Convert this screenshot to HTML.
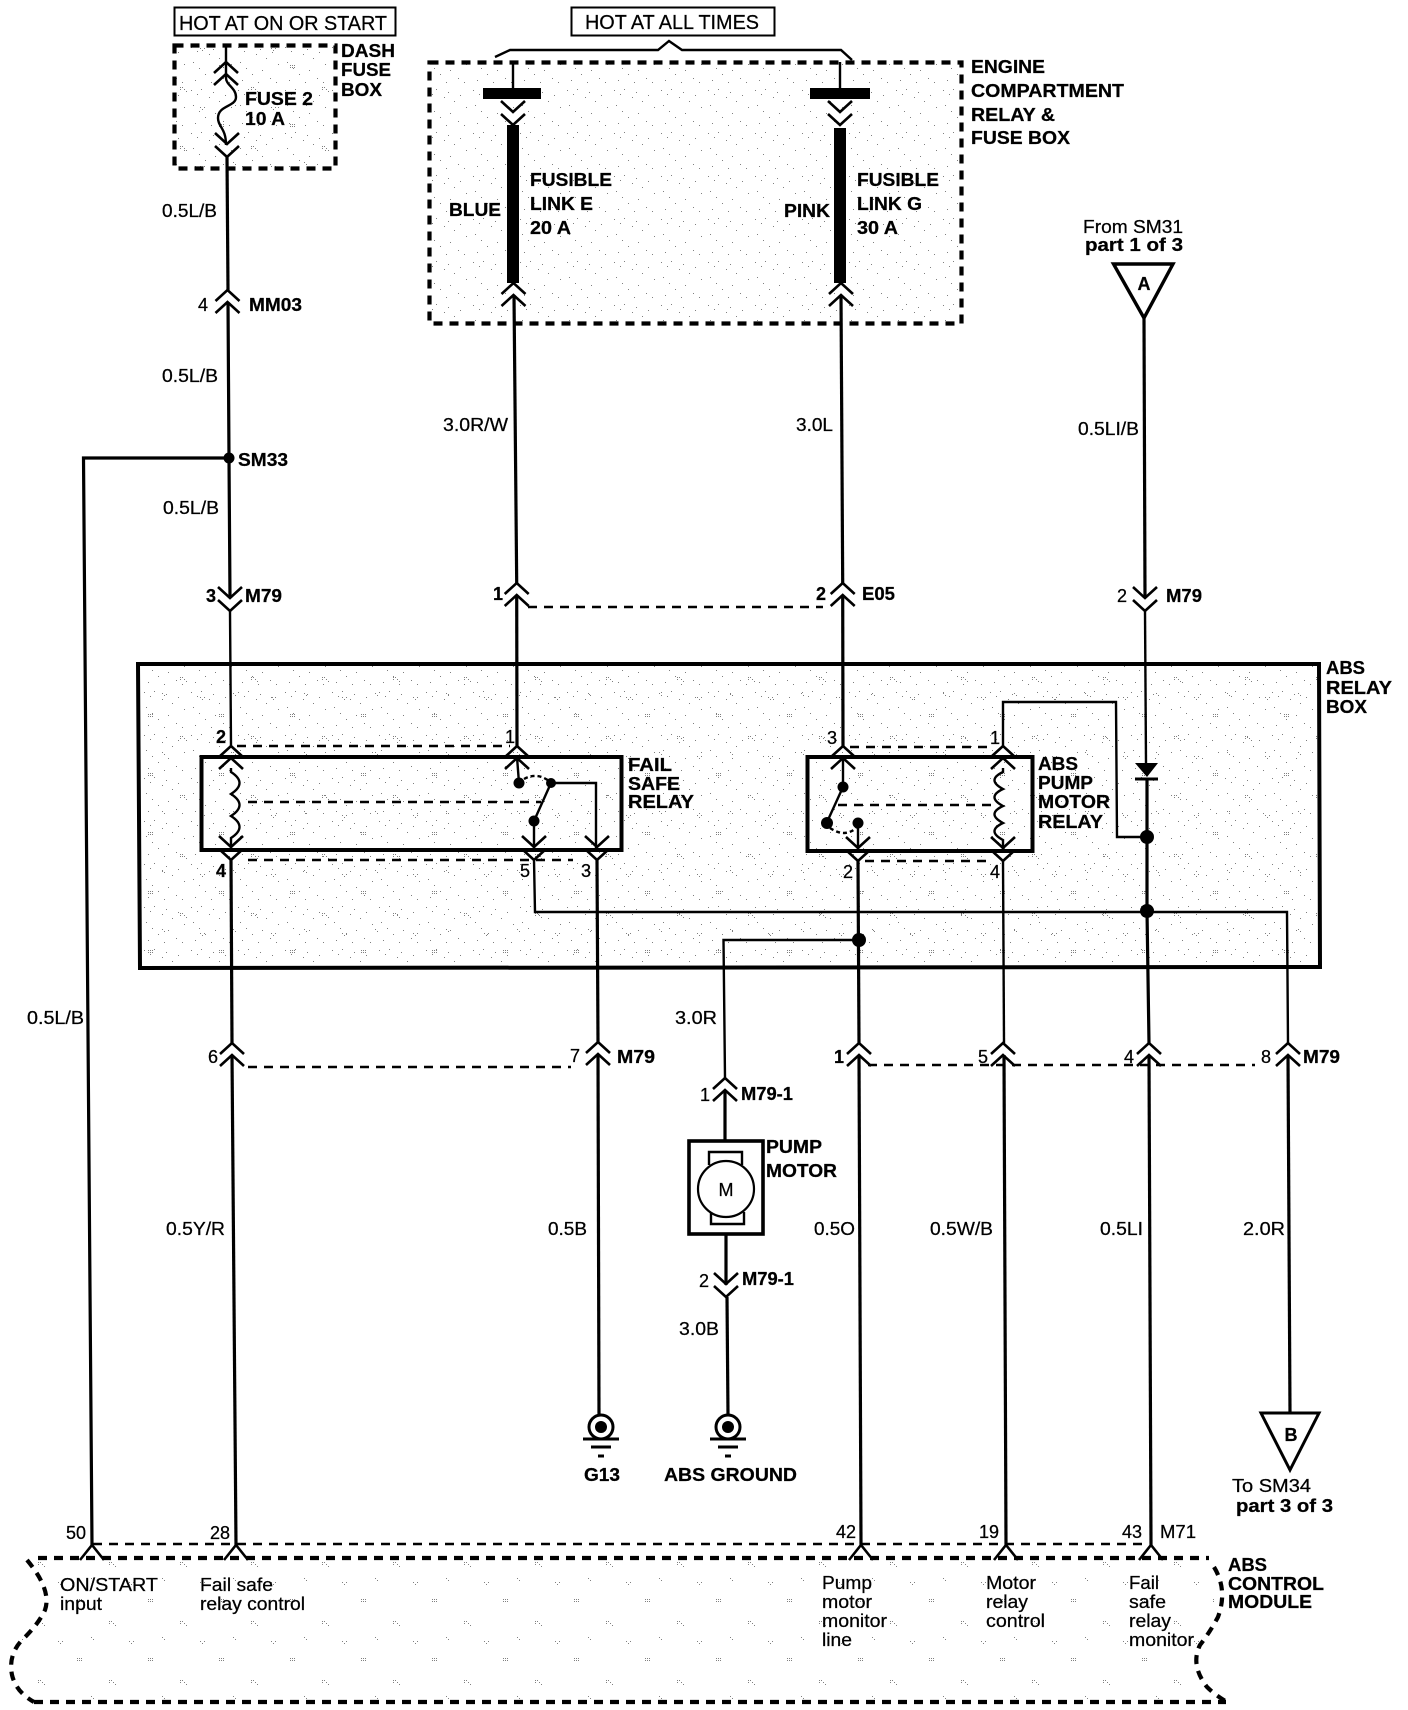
<!DOCTYPE html>
<html><head><meta charset="utf-8"><style>
html,body{margin:0;padding:0;background:#fff}
svg{display:block}
text{font-family:"Liberation Sans",sans-serif;fill:#000;stroke:#000;stroke-width:.25}
.b{font-weight:bold;font-size:18px}
.r{font-size:18px}
.w{fill:none;stroke:#000;stroke-width:3.2}
.t{fill:none;stroke:#000;stroke-width:2.4}
.box{fill:none;stroke:#000;stroke-width:4}
.da{fill:none;stroke:#000;stroke-width:2.6;stroke-dasharray:9 7}
.db{fill:none;stroke:#000;stroke-width:4.2;stroke-dasharray:9 7}
.c{fill:none;stroke:#000;stroke-width:2.6}
</style></head><body>
<svg xmlns="http://www.w3.org/2000/svg" width="1408" height="1710" viewBox="0 0 1408 1710">
<defs>
<pattern id="p1" width="47" height="43" patternUnits="userSpaceOnUse"><g fill="#000">
<rect x="3" y="4" width="1" height="1"/><rect x="9" y="8" width="1" height="1"/><rect x="13" y="3" width="1" height="1"/><rect x="21" y="11" width="1" height="1"/><rect x="25" y="6" width="1" height="1"/><rect x="31" y="15" width="1" height="1"/><rect x="37" y="9" width="1" height="1"/><rect x="43" y="21" width="1" height="1"/><rect x="5" y="19" width="1" height="1"/><rect x="11" y="25" width="1" height="1"/><rect x="17" y="31" width="1" height="1"/><rect x="27" y="27" width="1" height="1"/><rect x="35" y="35" width="1" height="1"/><rect x="41" y="39" width="1" height="1"/><rect x="7" y="37" width="1" height="1"/><rect x="23" y="39" width="1" height="1"/>
</g></pattern>
<pattern id="p2" width="71" height="59" patternUnits="userSpaceOnUse"><g fill="#000">
<rect x="6" y="6" width="1" height="1"/><rect x="8" y="6" width="1" height="1"/><rect x="10" y="6" width="1" height="1"/><rect x="6" y="8" width="1" height="1"/><rect x="8" y="8" width="1" height="1"/><rect x="10" y="8" width="1" height="1"/><rect x="38" y="28" width="1" height="1"/><rect x="40" y="28" width="1" height="1"/><rect x="42" y="30" width="1" height="1"/><rect x="38" y="30" width="1" height="1"/><rect x="44" y="32" width="1" height="1"/><rect x="58" y="48" width="1" height="1"/><rect x="60" y="50" width="1" height="1"/><rect x="62" y="48" width="1" height="1"/><rect x="20" y="44" width="1" height="1"/><rect x="22" y="46" width="1" height="1"/>
</g></pattern>
<g id="up"><path class="c" d="M-12 11L0 0L12 11M-12 23L0 12L12 23"/></g>
<g id="dn"><path class="c" d="M-12 -24L0 -13L12 -24M-12 -11L0 0L12 -11"/></g>
<g id="tm"><path class="c" d="M-12 15L0 0L12 15"/></g>
<g id="gnd"><circle r="12" fill="none" stroke="#000" stroke-width="3"/><circle r="6" fill="#000"/><path d="M-18 12H18" stroke="#000" stroke-width="3"/><path d="M-10 20H10" stroke="#000" stroke-width="3"/><path d="M-3 29H3" stroke="#000" stroke-width="3"/></g>
</defs>

<!-- stipple -->
<g opacity="0.5">
<rect x="176" y="47" width="158" height="120" fill="url(#p1)"/><rect x="176" y="47" width="158" height="120" fill="url(#p2)"/>
<rect x="431" y="64" width="529" height="258" fill="url(#p1)"/>
<polygon points="140,666 1317,666 1318,965 142,965" fill="url(#p1)"/><polygon points="140,666 1317,666 1318,965 142,965" fill="url(#p2)"/>
<path d="M30 1560H1210Q1225 1590 1200 1645Q1195 1670 1225 1700H34Q5 1670 15 1645L45 1610Q45 1580 30 1560Z" fill="url(#p2)"/>
</g>

<!-- header boxes -->
<rect x="174.5" y="7.5" width="221" height="28" fill="none" stroke="#000" stroke-width="2"/>
<text x="179" y="30" font-size="20" textLength="208" lengthAdjust="spacingAndGlyphs">HOT AT ON OR START</text>
<rect x="571.5" y="7.5" width="203" height="28" fill="none" stroke="#000" stroke-width="2"/>
<text x="585" y="29" font-size="20" textLength="174" lengthAdjust="spacingAndGlyphs">HOT AT ALL TIMES</text>
<path class="t" d="M495 57L510 50H658L669 41L682 50H841L852 60"/>

<!-- dashed boxes -->
<rect class="db" x="174.5" y="45.5" width="161" height="123"/>
<rect class="db" x="429.5" y="62.5" width="532" height="261"/>

<!-- Dash fuse -->
<path class="t" d="M226 45V78"/>
<use href="#up" x="226" y="62"/>
<path class="t" d="M226 78C226 85 236 88 236 97C236 107 218 105 218 118C218 127 226 128 226 145"/>
<use href="#dn" x="227" y="157"/>
<path class="w" d="M227 157L228 290"/>
<use href="#up" x="227.5" y="290"/>
<path class="w" d="M228 302L229 458L230 598"/>
<text class="b" x="341" y="57" textLength="54" lengthAdjust="spacingAndGlyphs">DASH</text>
<text class="b" x="341" y="76" textLength="50" lengthAdjust="spacingAndGlyphs">FUSE</text>
<text class="b" x="341" y="96" textLength="41" lengthAdjust="spacingAndGlyphs">BOX</text>
<text class="b" x="245" y="105" textLength="68" lengthAdjust="spacingAndGlyphs">FUSE 2</text>
<text class="b" x="245" y="125" textLength="40" lengthAdjust="spacingAndGlyphs">10 A</text>
<text class="r" x="162" y="217" textLength="55" lengthAdjust="spacingAndGlyphs">0.5L/B</text>
<text class="r" x="162" y="382" textLength="56" lengthAdjust="spacingAndGlyphs">0.5L/B</text>
<text class="r" x="163" y="514" textLength="56" lengthAdjust="spacingAndGlyphs">0.5L/B</text>
<text class="r" x="198" y="311">4</text>
<text class="b" x="249" y="311" textLength="53" lengthAdjust="spacingAndGlyphs">MM03</text>
<circle cx="229" cy="458" r="5.5"/>
<text class="b" x="238" y="466" textLength="50" lengthAdjust="spacingAndGlyphs">SM33</text>
<path class="w" d="M229 458H83.5L92 1545"/>
<text class="r" x="27" y="1024" textLength="57" lengthAdjust="spacingAndGlyphs">0.5L/B</text>

<!-- fuses -->
<rect x="483" y="88" width="58" height="11"/>
<rect x="810" y="88" width="60" height="11"/>
<path class="t" d="M513 62V88M840 62V88"/>
<use href="#dn" x="513" y="125"/>
<use href="#dn" x="840" y="125"/>
<rect x="507" y="125" width="12" height="158"/>
<rect x="834" y="128" width="12" height="155"/>
<use href="#up" x="513.5" y="283"/>
<use href="#up" x="841" y="283"/>
<text class="b" x="449" y="216" textLength="52" lengthAdjust="spacingAndGlyphs">BLUE</text>
<text class="b" x="530" y="186" textLength="82" lengthAdjust="spacingAndGlyphs">FUSIBLE</text>
<text class="b" x="530" y="210" textLength="63" lengthAdjust="spacingAndGlyphs">LINK E</text>
<text class="b" x="530" y="234" textLength="41" lengthAdjust="spacingAndGlyphs">20 A</text>
<text class="b" x="784" y="217" textLength="46" lengthAdjust="spacingAndGlyphs">PINK</text>
<text class="b" x="857" y="186" textLength="82" lengthAdjust="spacingAndGlyphs">FUSIBLE</text>
<text class="b" x="857" y="210" textLength="65" lengthAdjust="spacingAndGlyphs">LINK G</text>
<text class="b" x="857" y="234" textLength="41" lengthAdjust="spacingAndGlyphs">30 A</text>
<text class="b" x="971" y="73" textLength="74" lengthAdjust="spacingAndGlyphs">ENGINE</text>
<text class="b" x="971" y="97" textLength="153" lengthAdjust="spacingAndGlyphs">COMPARTMENT</text>
<text class="b" x="971" y="121" textLength="84" lengthAdjust="spacingAndGlyphs">RELAY &amp;</text>
<text class="b" x="971" y="144" textLength="99" lengthAdjust="spacingAndGlyphs">FUSE BOX</text>
<path class="w" d="M514 295L516.7 583"/>
<path class="w" d="M841 295L842.7 583"/>
<text class="r" x="443" y="431" textLength="65" lengthAdjust="spacingAndGlyphs">3.0R/W</text>
<text class="r" x="796" y="431" textLength="37" lengthAdjust="spacingAndGlyphs">3.0L</text>

<!-- A flag -->
<text class="r" x="1083" y="233" textLength="100" lengthAdjust="spacingAndGlyphs">From SM31</text>
<text class="b" x="1085" y="251" textLength="98" lengthAdjust="spacingAndGlyphs">part 1 of 3</text>
<polygon points="1113.5,264 1173,264 1144,318" fill="none" stroke="#000" stroke-width="3.4"/>
<text x="1144" y="290" font-size="18" font-weight="bold" text-anchor="middle">A</text>
<path class="w" d="M1144 318L1145 598"/>
<text class="r" x="1078" y="435" textLength="61" lengthAdjust="spacingAndGlyphs">0.5LI/B</text>

<!-- row M79 / E05 -->
<use href="#dn" x="230" y="611"/>
<use href="#up" x="516.7" y="583"/>
<use href="#up" x="842.7" y="583"/>
<use href="#dn" x="1145" y="611"/>
<path class="da" d="M528 607H823"/>
<text class="b" x="206" y="602">3</text>
<text class="b" x="245" y="602" textLength="37" lengthAdjust="spacingAndGlyphs">M79</text>
<text class="b" x="493" y="600">1</text>
<text class="b" x="816" y="600">2</text>
<text class="b" x="862" y="600" textLength="33" lengthAdjust="spacingAndGlyphs">E05</text>
<text class="r" x="1117" y="602">2</text>
<text class="b" x="1166" y="602" textLength="36" lengthAdjust="spacingAndGlyphs">M79</text>

<!-- ABS relay box -->
<polygon class="box" points="138,664 1319,664 1320,967 140,968"/>
<text class="b" x="1326" y="674" textLength="39" lengthAdjust="spacingAndGlyphs">ABS</text>
<text class="b" x="1326" y="694" textLength="66" lengthAdjust="spacingAndGlyphs">RELAY</text>
<text class="b" x="1326" y="713" textLength="41" lengthAdjust="spacingAndGlyphs">BOX</text>

<!-- Fail safe relay -->
<rect class="box" x="201.5" y="757" width="420" height="93"/>
<path class="t" d="M230 611L231 746M231 768V772Q248 783 231 794Q248 805 231 816Q248 827 231 838V850"/>
<path class="w" d="M516.7 595L517 746"/>
<path class="t" d="M517 757L519 783"/>
<use href="#up" x="231" y="746"/><use href="#up" x="517" y="746"/>
<use href="#dn" x="231" y="860"/><use href="#dn" x="534" y="860"/><use href="#dn" x="597" y="860"/>
<path class="da" d="M237 746H510M248 802H541M248 860H573"/>
<circle cx="519" cy="783" r="5.5"/><circle cx="551" cy="783" r="5"/><circle cx="534" cy="821" r="5.5"/>
<path d="M524 779Q537 772 549 781" fill="none" stroke="#000" stroke-width="2.4" stroke-dasharray="4 3"/>
<path class="t" d="M551 783L534 821V850"/>
<path class="t" d="M551 783H596V850"/>
<text class="b" x="216" y="743">2</text>
<text class="r" x="505" y="743">1</text>
<text class="b" x="216" y="877">4</text>
<text class="r" x="520" y="877">5</text>
<text class="r" x="581" y="877">3</text>
<text class="b" x="628" y="771" textLength="44" lengthAdjust="spacingAndGlyphs">FAIL</text>
<text class="b" x="628" y="790" textLength="52" lengthAdjust="spacingAndGlyphs">SAFE</text>
<text class="b" x="628" y="808" textLength="66" lengthAdjust="spacingAndGlyphs">RELAY</text>

<!-- Pump relay -->
<rect class="box" x="807.5" y="757" width="225" height="94"/>
<path class="w" d="M842.7 595L843 746"/>
<path class="t" d="M843 757V787L826.6 823"/>
<use href="#up" x="843" y="746"/><use href="#up" x="1003" y="746"/>
<use href="#dn" x="858" y="861"/><use href="#dn" x="1003" y="861"/>
<circle cx="843" cy="787" r="5.5"/><circle cx="827" cy="823" r="6"/><circle cx="858" cy="823" r="5.5"/>
<path d="M830 828Q845 838 856 828" fill="none" stroke="#000" stroke-width="2.4" stroke-dasharray="4 3"/>
<path class="t" d="M858 823V851"/>
<path class="da" d="M850 747H990M838 805H994M865 861H990"/>
<path class="t" d="M1003 768V772Q986 780 1003 789Q986 797 1003 806Q986 814 1003 823Q986 831 1003 840V851"/>
<path class="t" d="M1003 746V702H1116L1117 837H1147"/>
<text class="r" x="827" y="744">3</text>
<text class="r" x="990" y="744">1</text>
<text class="r" x="843" y="878">2</text>
<text class="r" x="990" y="878">4</text>
<text class="b" x="1038" y="770" textLength="40" lengthAdjust="spacingAndGlyphs">ABS</text>
<text class="b" x="1038" y="789" textLength="55" lengthAdjust="spacingAndGlyphs">PUMP</text>
<text class="b" x="1038" y="808" textLength="72" lengthAdjust="spacingAndGlyphs">MOTOR</text>
<text class="b" x="1038" y="828" textLength="65" lengthAdjust="spacingAndGlyphs">RELAY</text>

<!-- A line + diode -->
<path class="t" d="M1145 611L1146 763"/>
<polygon points="1135,763 1158,763 1147,777"/>
<path d="M1135 779H1158" stroke="#000" stroke-width="3"/>
<path class="w" d="M1147 779V911L1149 1043"/>
<circle cx="1147" cy="837" r="7"/><circle cx="1147" cy="911" r="7"/>

<!-- bus -->
<path class="t" d="M534 860L535 912H1287L1288 1043"/>
<circle cx="859" cy="940" r="7"/>
<path class="t" d="M859 940H723.5L725 1078"/>
<path class="w" d="M858 861L859 1043"/>
<path class="t" d="M1003 861L1004 1043"/>
<path class="w" d="M231 860L232 1043"/>
<path class="w" d="M597 860L598 1042"/>

<!-- lower row -->
<use href="#up" x="232" y="1043"/><use href="#up" x="598" y="1042"/>
<use href="#up" x="859" y="1043"/><use href="#up" x="1003" y="1043"/>
<use href="#up" x="1149" y="1043"/><use href="#up" x="1288" y="1043"/>
<path class="da" d="M248 1067H571M868 1065H1255"/>
<text class="r" x="208" y="1063">6</text>
<text class="r" x="570" y="1062">7</text>
<text class="b" x="617" y="1063" textLength="38" lengthAdjust="spacingAndGlyphs">M79</text>
<text class="b" x="834" y="1063">1</text>
<text class="r" x="978" y="1063">5</text>
<text class="r" x="1124" y="1063">4</text>
<text class="r" x="1261" y="1063">8</text>
<text class="b" x="1303" y="1063" textLength="37" lengthAdjust="spacingAndGlyphs">M79</text>

<text class="r" x="675" y="1024" textLength="42" lengthAdjust="spacingAndGlyphs">3.0R</text>

<!-- pump motor -->
<use href="#up" x="725" y="1078"/>
<path class="w" d="M725 1090V1141"/>
<text class="r" x="700" y="1101">1</text>
<text class="b" x="741" y="1100" textLength="52" lengthAdjust="spacingAndGlyphs">M79-1</text>
<rect x="689" y="1141" width="74" height="93" fill="none" stroke="#000" stroke-width="3.6"/>
<path class="t" d="M709 1165V1152H742V1165M711 1212V1224H744V1212"/>
<circle cx="726" cy="1189" r="28" fill="#fff" stroke="#000" stroke-width="2.2"/>
<text x="726" y="1196" font-size="18" text-anchor="middle">M</text>
<text class="b" x="766" y="1153" textLength="56" lengthAdjust="spacingAndGlyphs">PUMP</text>
<text class="b" x="766" y="1177" textLength="71" lengthAdjust="spacingAndGlyphs">MOTOR</text>
<path class="w" d="M726 1234V1285"/>
<use href="#dn" x="726" y="1297"/>
<text class="r" x="699" y="1287">2</text>
<text class="b" x="742" y="1285" textLength="52" lengthAdjust="spacingAndGlyphs">M79-1</text>
<text class="r" x="679" y="1335" textLength="40" lengthAdjust="spacingAndGlyphs">3.0B</text>
<path class="w" d="M727 1297L728 1415"/>
<use href="#gnd" x="728" y="1427"/>
<path class="w" d="M598 1055L599 1415"/>
<use href="#gnd" x="601" y="1427"/>
<text class="b" x="584" y="1481" textLength="36" lengthAdjust="spacingAndGlyphs">G13</text>
<text class="b" x="664" y="1481" textLength="133" lengthAdjust="spacingAndGlyphs">ABS GROUND</text>

<!-- lower wires -->
<path class="w" d="M232 1055L236 1545"/>
<path class="w" d="M859 1055L861 1545"/>
<path class="w" d="M1004 1055L1006 1545"/>
<path class="w" d="M1149 1055L1151 1545"/>
<path class="w" d="M1288 1055L1290 1413"/>
<text class="r" x="166" y="1235" textLength="59" lengthAdjust="spacingAndGlyphs">0.5Y/R</text>
<text class="r" x="548" y="1235" textLength="39" lengthAdjust="spacingAndGlyphs">0.5B</text>
<text class="r" x="814" y="1235" textLength="41" lengthAdjust="spacingAndGlyphs">0.5O</text>
<text class="r" x="930" y="1235" textLength="63" lengthAdjust="spacingAndGlyphs">0.5W/B</text>
<text class="r" x="1100" y="1235" textLength="43" lengthAdjust="spacingAndGlyphs">0.5LI</text>
<text class="r" x="1243" y="1235" textLength="42" lengthAdjust="spacingAndGlyphs">2.0R</text>

<!-- B flag -->
<polygon points="1261,1413 1319,1413 1290,1470" fill="#fff" stroke="#000" stroke-width="3"/>
<text x="1291" y="1441" font-size="18" font-weight="bold" text-anchor="middle">B</text>
<text class="r" x="1232" y="1492" textLength="79" lengthAdjust="spacingAndGlyphs">To SM34</text>
<text class="b" x="1236" y="1512" textLength="97" lengthAdjust="spacingAndGlyphs">part 3 of 3</text>

<!-- module -->
<path class="da" d="M93 1544H1142"/>
<path class="db" d="M38 1558H1209"/>
<path class="db" d="M34 1702H1226"/>
<path class="db" d="M27 1560Q52 1590 45 1610Q38 1625 22 1640Q8 1655 12 1675Q16 1692 34 1702"/>
<path class="db" d="M1214 1567Q1228 1590 1218 1617Q1210 1632 1200 1645Q1190 1665 1207 1687Q1215 1695 1227 1702"/>
<use href="#tm" x="92" y="1545"/><use href="#tm" x="236" y="1545"/><use href="#tm" x="861" y="1545"/><use href="#tm" x="1006" y="1545"/><use href="#tm" x="1151" y="1545"/>
<text class="r" x="66" y="1539" textLength="20" lengthAdjust="spacingAndGlyphs">50</text>
<text class="r" x="210" y="1539" textLength="20" lengthAdjust="spacingAndGlyphs">28</text>
<text class="r" x="836" y="1538" textLength="20" lengthAdjust="spacingAndGlyphs">42</text>
<text class="r" x="979" y="1538" textLength="20" lengthAdjust="spacingAndGlyphs">19</text>
<text class="r" x="1122" y="1538" textLength="20" lengthAdjust="spacingAndGlyphs">43</text>
<text class="r" x="1160" y="1538" textLength="36" lengthAdjust="spacingAndGlyphs">M71</text>
<text class="r" x="60" y="1591" textLength="98" lengthAdjust="spacingAndGlyphs">ON/START</text>
<text class="r" x="60" y="1610" textLength="42" lengthAdjust="spacingAndGlyphs">input</text>
<text class="r" x="200" y="1591" textLength="73" lengthAdjust="spacingAndGlyphs">Fail safe</text>
<text class="r" x="200" y="1610" textLength="105" lengthAdjust="spacingAndGlyphs">relay control</text>
<text class="r" x="822" y="1589" textLength="50" lengthAdjust="spacingAndGlyphs">Pump</text>
<text class="r" x="822" y="1608" textLength="50" lengthAdjust="spacingAndGlyphs">motor</text>
<text class="r" x="822" y="1627" textLength="65" lengthAdjust="spacingAndGlyphs">monitor</text>
<text class="r" x="822" y="1646" textLength="30" lengthAdjust="spacingAndGlyphs">line</text>
<text class="r" x="986" y="1589" textLength="50" lengthAdjust="spacingAndGlyphs">Motor</text>
<text class="r" x="986" y="1608" textLength="42" lengthAdjust="spacingAndGlyphs">relay</text>
<text class="r" x="986" y="1627" textLength="59" lengthAdjust="spacingAndGlyphs">control</text>
<text class="r" x="1129" y="1589" textLength="30" lengthAdjust="spacingAndGlyphs">Fail</text>
<text class="r" x="1129" y="1608" textLength="37" lengthAdjust="spacingAndGlyphs">safe</text>
<text class="r" x="1129" y="1627" textLength="42" lengthAdjust="spacingAndGlyphs">relay</text>
<text class="r" x="1129" y="1646" textLength="65" lengthAdjust="spacingAndGlyphs">monitor</text>
<text class="b" x="1228" y="1571" textLength="39" lengthAdjust="spacingAndGlyphs">ABS</text>
<text class="b" x="1228" y="1590" textLength="96" lengthAdjust="spacingAndGlyphs">CONTROL</text>
<text class="b" x="1228" y="1608" textLength="84" lengthAdjust="spacingAndGlyphs">MODULE</text>
</svg>
</body></html>
